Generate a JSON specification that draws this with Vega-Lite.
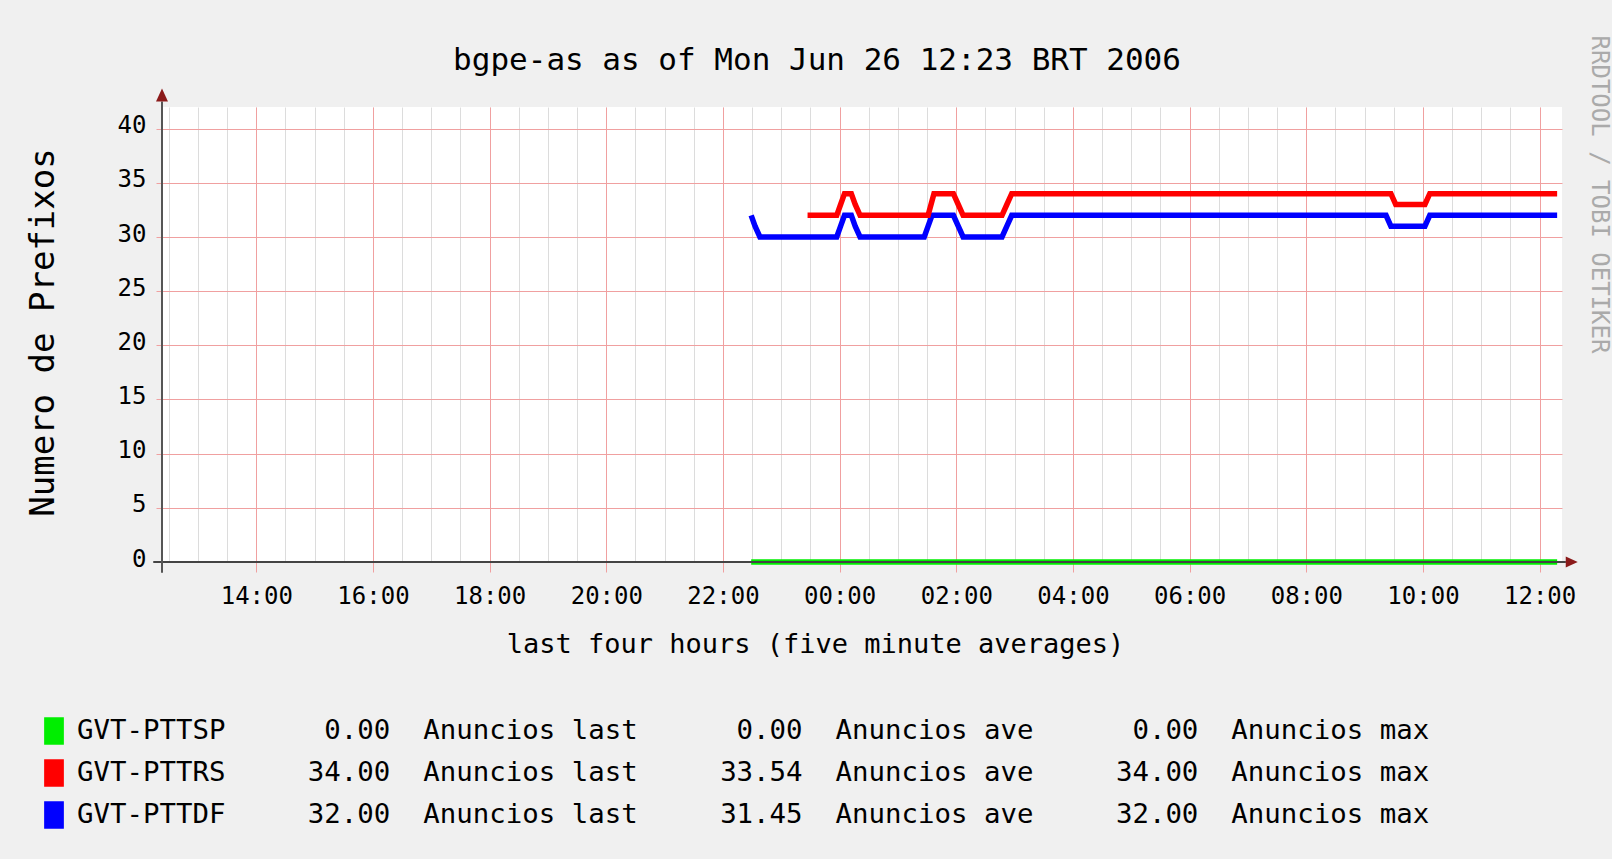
{
  "$schema": "https://vega.github.io/schema/vega-lite/v6.json",
  "width": 1400,
  "height": 455,
  "autosize": {"type": "none"},
  "padding": {"left": 162, "top": 107, "right": 50, "bottom": 297},
  "background": "#f0f0f0",
  "title": {
    "text": "bgpe-as as of Mon Jun 26 12:23 BRT 2006",
    "font": "DejaVu Sans Mono",
    "fontSize": 31,
    "fontWeight": "normal",
    "color": "#000000",
    "anchor": "middle",
    "baseline": "alphabetic",
    "dx": -45,
    "dy": 70
  },
  "datasets": {
    "lines": [
      {"series": "GVT-PTTSP", "t": "2006-06-25T22:29:00", "v": 0},
      {"series": "GVT-PTTSP", "t": "2006-06-26T12:18:00", "v": 0},
      {"series": "GVT-PTTDF", "t": "2006-06-25T22:29:00", "v": 32},
      {"series": "GVT-PTTDF", "t": "2006-06-25T22:33:00", "v": 31},
      {"series": "GVT-PTTDF", "t": "2006-06-25T22:38:00", "v": 30},
      {"series": "GVT-PTTDF", "t": "2006-06-25T23:57:00", "v": 30},
      {"series": "GVT-PTTDF", "t": "2006-06-26T00:01:00", "v": 31},
      {"series": "GVT-PTTDF", "t": "2006-06-26T00:05:00", "v": 32},
      {"series": "GVT-PTTDF", "t": "2006-06-26T00:12:00", "v": 32},
      {"series": "GVT-PTTDF", "t": "2006-06-26T00:16:00", "v": 31},
      {"series": "GVT-PTTDF", "t": "2006-06-26T00:21:00", "v": 30},
      {"series": "GVT-PTTDF", "t": "2006-06-26T01:27:00", "v": 30},
      {"series": "GVT-PTTDF", "t": "2006-06-26T01:31:00", "v": 31},
      {"series": "GVT-PTTDF", "t": "2006-06-26T01:35:00", "v": 32},
      {"series": "GVT-PTTDF", "t": "2006-06-26T01:57:00", "v": 32},
      {"series": "GVT-PTTDF", "t": "2006-06-26T02:02:00", "v": 31},
      {"series": "GVT-PTTDF", "t": "2006-06-26T02:07:00", "v": 30},
      {"series": "GVT-PTTDF", "t": "2006-06-26T02:47:00", "v": 30},
      {"series": "GVT-PTTDF", "t": "2006-06-26T02:52:00", "v": 31},
      {"series": "GVT-PTTDF", "t": "2006-06-26T02:57:00", "v": 32},
      {"series": "GVT-PTTDF", "t": "2006-06-26T09:22:00", "v": 32},
      {"series": "GVT-PTTDF", "t": "2006-06-26T09:27:00", "v": 31},
      {"series": "GVT-PTTDF", "t": "2006-06-26T10:02:00", "v": 31},
      {"series": "GVT-PTTDF", "t": "2006-06-26T10:07:00", "v": 32},
      {"series": "GVT-PTTDF", "t": "2006-06-26T12:18:00", "v": 32},
      {"series": "GVT-PTTRS", "t": "2006-06-25T23:27:00", "v": 32},
      {"series": "GVT-PTTRS", "t": "2006-06-25T23:57:00", "v": 32},
      {"series": "GVT-PTTRS", "t": "2006-06-26T00:01:00", "v": 33},
      {"series": "GVT-PTTRS", "t": "2006-06-26T00:05:00", "v": 34},
      {"series": "GVT-PTTRS", "t": "2006-06-26T00:12:00", "v": 34},
      {"series": "GVT-PTTRS", "t": "2006-06-26T00:16:00", "v": 33},
      {"series": "GVT-PTTRS", "t": "2006-06-26T00:21:00", "v": 32},
      {"series": "GVT-PTTRS", "t": "2006-06-26T01:31:00", "v": 32},
      {"series": "GVT-PTTRS", "t": "2006-06-26T01:34:00", "v": 33},
      {"series": "GVT-PTTRS", "t": "2006-06-26T01:37:00", "v": 34},
      {"series": "GVT-PTTRS", "t": "2006-06-26T01:57:00", "v": 34},
      {"series": "GVT-PTTRS", "t": "2006-06-26T02:02:00", "v": 33},
      {"series": "GVT-PTTRS", "t": "2006-06-26T02:07:00", "v": 32},
      {"series": "GVT-PTTRS", "t": "2006-06-26T02:47:00", "v": 32},
      {"series": "GVT-PTTRS", "t": "2006-06-26T02:52:00", "v": 33},
      {"series": "GVT-PTTRS", "t": "2006-06-26T02:57:00", "v": 34},
      {"series": "GVT-PTTRS", "t": "2006-06-26T09:27:00", "v": 34},
      {"series": "GVT-PTTRS", "t": "2006-06-26T09:32:00", "v": 33},
      {"series": "GVT-PTTRS", "t": "2006-06-26T10:02:00", "v": 33},
      {"series": "GVT-PTTRS", "t": "2006-06-26T10:07:00", "v": 34},
      {"series": "GVT-PTTRS", "t": "2006-06-26T12:18:00", "v": 34}
    ],
    "stats": [
      {"series": "GVT-PTTSP", "last": 0.0, "ave": 0.0, "max": 0.0},
      {"series": "GVT-PTTRS", "last": 34.0, "ave": 33.54, "max": 34.0},
      {"series": "GVT-PTTDF", "last": 32.0, "ave": 31.45, "max": 32.0}
    ]
  },
  "layer": [
    {
      "data": {"name": "lines"},
      "transform": [
        {"lookup": "series", "from": {"data": {"name": "stats"}, "key": "series", "fields": ["last", "ave", "max"]}},
        {"calculate": "pad(datum.series, 14, '\u00a0') + pad(format(datum.last, '.2f'), 5, '\u00a0', 'left') + '\u00a0\u00a0Anuncios\u00a0last' + pad(format(datum.ave, '.2f'), 10, '\u00a0', 'left') + '\u00a0\u00a0Anuncios\u00a0ave' + pad(format(datum.max, '.2f'), 10, '\u00a0', 'left') + '\u00a0\u00a0Anuncios\u00a0max'", "as": "legendLabel"}
      ],
      "mark": {"type": "line", "strokeWidth": 5.5, "strokeCap": "butt", "strokeJoin": "miter"},
      "encoding": {
        "x": {
          "field": "t",
          "type": "temporal",
          "scale": {"domain": [
            {"year": 2006, "month": 6, "date": 25, "hours": 12, "minutes": 23},
            {"year": 2006, "month": 6, "date": 26, "hours": 12, "minutes": 23}
          ], "nice": false},
          "axis": {
            "orient": "bottom",
            "tickCount": 48,
            "grid": true,
            "gridColor": "#dcdcdc",
            "labels": false,
            "ticks": false,
            "domain": false,
            "title": null
          }
        },
        "y": {
          "field": "v",
          "type": "quantitative",
          "scale": {"domain": [0, 42], "nice": false, "zero": false},
          "axis": {
            "values": [0, 5, 10, 15, 20, 25, 30, 35, 40],
            "domain": false,
            "tickSize": 6,
            "tickColor": "#f0a0a0",
            "gridColor": "#f0a0a0",
            "labelFontSize": 24,
            "labelPadding": 10,
            "labelOffset": -3,
            "title": "Numero de Prefixos",
            "titleFontSize": 34,
            "titleAngle": 270,
            "titleX": -109,
            "titleY": 225,
            "titleAlign": "center",
            "titleBaseline": "alphabetic"
          }
        },
        "color": {
          "field": "legendLabel",
          "type": "nominal",
          "sort": "descending",
          "scale": {"range": ["#00ee00", "#ff0000", "#0000ff"]},
          "legend": {
            "orient": "none",
            "legendX": -122,
            "legendY": 610,
            "title": null,
            "padding": 0,
            "symbolType": "M-0.7,-1H0.7V1H-0.7Z",
            "symbolSize": 676,
            "symbolStrokeWidth": 1.5,
            "labelFont": "DejaVu Sans Mono",
            "labelFontSize": 27.4,
            "labelColor": "#000000",
            "labelLimit": 0,
            "labelOffset": 9,
            "rowPadding": 10,
            "encode": {
              "symbols": {
                "update": {
                  "fill": {"scale": "color", "field": "value"},
                  "stroke": {"value": "#000000"},
                  "strokeWidth": {"value": 1.5},
                  "opacity": {"value": 1}
                }
              }
            }
          }
        }
      }
    },
    {
      "data": {"values": [{}]},
      "mark": {"type": "rule", "stroke": "#444444", "strokeWidth": 2},
      "encoding": {
        "x": {"datum": {"year": 2006, "month": 6, "date": 25, "hours": 12, "minutes": 14}, "axis": {
          "orient": "bottom",
          "values": [
            {"year": 2006, "month": 6, "date": 25, "hours": 14},
            {"year": 2006, "month": 6, "date": 25, "hours": 16},
            {"year": 2006, "month": 6, "date": 25, "hours": 18},
            {"year": 2006, "month": 6, "date": 25, "hours": 20},
            {"year": 2006, "month": 6, "date": 25, "hours": 22},
            {"year": 2006, "month": 6, "date": 26, "hours": 0},
            {"year": 2006, "month": 6, "date": 26, "hours": 2},
            {"year": 2006, "month": 6, "date": 26, "hours": 4},
            {"year": 2006, "month": 6, "date": 26, "hours": 6},
            {"year": 2006, "month": 6, "date": 26, "hours": 8},
            {"year": 2006, "month": 6, "date": 26, "hours": 10},
            {"year": 2006, "month": 6, "date": 26, "hours": 12}
          ],
          "format": "%H:%M",
          "labelOverlap": false,
          "labelFontSize": 24,
          "labelPadding": 12,
          "tickSize": 10,
          "tickColor": "#f0a0a0",
          "grid": true,
          "gridColor": "#f0a0a0",
          "domain": false,
          "title": "last four hours (five minute averages)",
          "titleFontSize": 27,
          "titleX": 653,
          "titleY": 90,
          "titleAlign": "center",
          "titleBaseline": "alphabetic"
        }},
        "x2": {"datum": {"year": 2006, "month": 6, "date": 26, "hours": 12, "minutes": 27}},
        "y": {"datum": 0, "axis": null}
      }
    },
    {
      "data": {"values": [{}]},
      "mark": {"type": "rule", "stroke": "#555555", "strokeWidth": 2},
      "encoding": {
        "x": {"datum": {"year": 2006, "month": 6, "date": 25, "hours": 12, "minutes": 23}, "axis": null},
        "y": {"datum": -1, "axis": {
          "orient": "right",
          "domain": false,
          "ticks": false,
          "labels": false,
          "grid": false,
          "title": "RRDTOOL / TOBI OETIKER",
          "titleFont": "DejaVu Sans Mono",
          "titleFontSize": 24,
          "titleFontWeight": "normal",
          "titleColor": "#aaaaaa",
          "titleAngle": 90,
          "titleX": 36,
          "titleY": 87,
          "titleAlign": "center",
          "titleBaseline": "middle"
        }},
        "y2": {"datum": 42.5}
      }
    },
    {
      "data": {"values": [{}]},
      "mark": {"type": "point", "shape": "M0,-1L0.92,1L-0.92,1Z", "size": 169, "filled": true, "color": "#8b1a1a", "opacity": 1},
      "encoding": {
        "x": {"datum": {"year": 2006, "month": 6, "date": 25, "hours": 12, "minutes": 23}, "axis": null},
        "y": {"datum": 43.1, "axis": null}
      }
    },
    {
      "data": {"values": [{}]},
      "mark": {"type": "point", "shape": "M1,0L-1,-0.92L-1,0.92Z", "size": 144, "filled": true, "color": "#8b1a1a", "opacity": 1},
      "encoding": {
        "x": {"datum": {"year": 2006, "month": 6, "date": 26, "hours": 12, "minutes": 33}, "axis": null},
        "y": {"datum": 0, "axis": null}
      }
    }
  ],
  "resolve": {"axis": {"x": "independent", "y": "independent"}},
  "config": {
    "view": {"fill": "#ffffff", "stroke": null},
    "axis": {
      "labelFont": "DejaVu Sans Mono",
      "titleFont": "DejaVu Sans Mono",
      "labelColor": "#000000",
      "titleColor": "#000000",
      "titleFontWeight": "normal"
    }
  }
}
